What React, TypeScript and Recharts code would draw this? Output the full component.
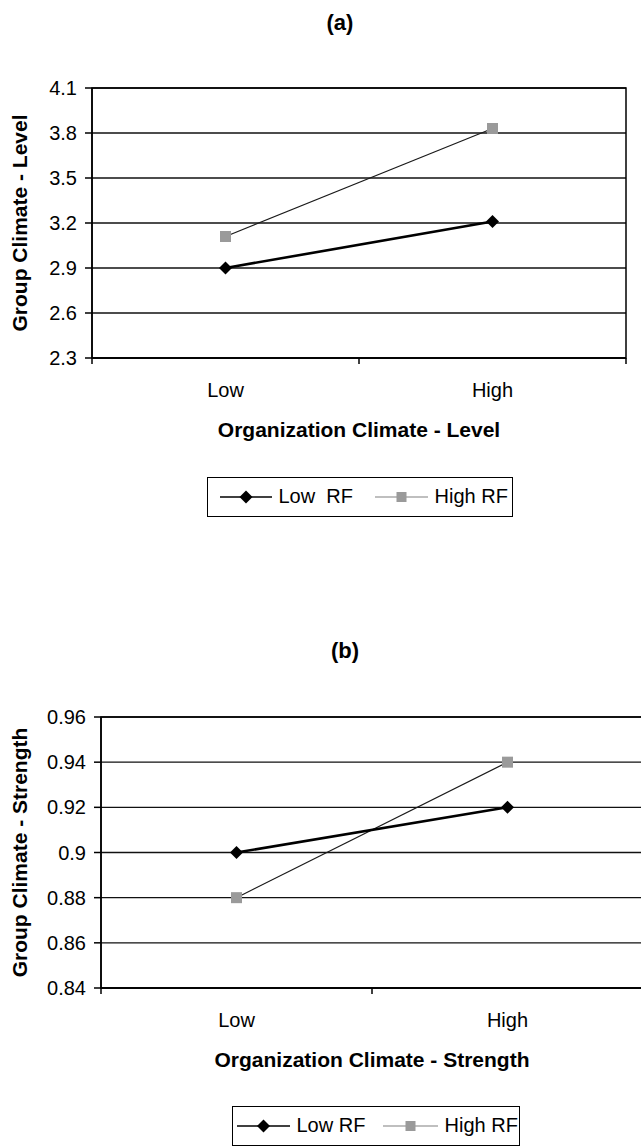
import { LineChart, Line, XAxis, YAxis, CartesianGrid, ReferenceArea } from 'recharts';

const categories = ['Low', 'High'];

const levelLowRF = [2.9, 3.21];
const levelHighRF = [3.11, 3.83];
const levelTicks = [2.3, 2.6, 2.9, 3.2, 3.5, 3.8, 4.1];

const strengthLowRF = [0.9, 0.92];
const strengthHighRF = [0.88, 0.94];
const strengthTicks = [0.84, 0.86, 0.88, 0.9, 0.92, 0.94, 0.96];

const FONT = '"Liberation Sans", Arial, sans-serif';

function Diamond(props: any) {
  const { cx, cy, key } = props;
  if (cx == null || cy == null) return <g key={key} />;
  const r = 6.5;
  return (
    <polygon
      key={key}
      points={`${cx},${cy - r} ${cx + r},${cy} ${cx},${cy + r} ${cx - r},${cy}`}
      fill="#000"
    />
  );
}

function Square(props: any) {
  const { cx, cy, key } = props;
  if (cx == null || cy == null) return <g key={key} />;
  const s = 11;
  return <rect key={key} x={cx - s / 2} y={cy - s / 2} width={s} height={s} fill="#9a9a9a" />;
}

// Excel puts the category tick marks between categories, not under them
function makeCategoryTick(half: number, count: number) {
  return (props: any) => {
    const { x, y, payload, index } = props;
    return (
      <g>
        <line x1={x - half} y1={y} x2={x - half} y2={y + 6} stroke="#000" strokeWidth={1.5} />
        {index === count - 1 && (
          <line x1={x + half} y1={y} x2={x + half} y2={y + 6} stroke="#000" strokeWidth={1.5} />
        )}
        <text x={x} y={y + 39} textAnchor="middle" fontSize={20} fill="#000" fontFamily={FONT}>
          {payload.value}
        </text>
      </g>
    );
  };
}

interface PanelProps {
  top: number;
  width: number;
  height: number;
  plotTop: number;
  plotLeft: number;
  plotRight: number;
  plotBottom: number;
  lowRF: number[];
  highRF: number[];
  ticks: number[];
  yLabel: string;
  xLabel: string;
}

function Panel({ top, width, height, plotTop, plotLeft, plotRight, plotBottom, lowRF, highRF, ticks, yLabel, xLabel }: PanelProps) {
  const data = categories.map((c, i) => ({ cat: c, lowRF: lowRF[i], highRF: highRF[i] }));
  const xAxisHeight = 90;
  const half = (plotRight - plotLeft) / categories.length / 2;
  const y0 = ticks[0];
  const y1 = ticks[ticks.length - 1];
  return (
    <div style={{ position: 'absolute', left: 0, top }}>
      <LineChart
        width={width}
        height={height}
        data={data}
        margin={{ top: plotTop, left: 0, right: width - plotRight, bottom: height - plotBottom - xAxisHeight }}
      >
        <CartesianGrid vertical={false} stroke="#111" strokeWidth={1.4} />
        <ReferenceArea y1={y0} y2={y1} fill="none" stroke="#000" strokeWidth={1.5} />
        <XAxis
          dataKey="cat"
          scale="band"
          height={xAxisHeight}
          axisLine={{ stroke: '#000', strokeWidth: 1.5 }}
          tickLine={false}
          tickSize={0}
          tickMargin={0}
          interval={0}
          tick={makeCategoryTick(half, categories.length)}
          label={{
            value: xLabel,
            position: 'insideBottom',
            offset: 11,
            style: { fontSize: 21, fontWeight: 'bold', fill: '#000', fontFamily: FONT },
          }}
        />
        <YAxis
          width={plotLeft}
          domain={[y0, y1]}
          ticks={ticks}
          interval={0}
          axisLine={{ stroke: '#000', strokeWidth: 1.5 }}
          tickLine={{ stroke: '#000', strokeWidth: 1.5 }}
          tickSize={7}
          tickMargin={8}
          tick={{ fontSize: 20, fill: '#000', fontFamily: FONT }}
          label={{
            value: yLabel,
            angle: -90,
            position: 'insideLeft',
            offset: 20,
            style: { textAnchor: 'middle', fontSize: 21, fontWeight: 'bold', fill: '#000', fontFamily: FONT },
          }}
        />
        <Line
          dataKey="highRF"
          stroke="#1a1a1a"
          strokeWidth={1.2}
          dot={Square}
          activeDot={false}
          isAnimationActive={false}
        />
        <Line
          dataKey="lowRF"
          stroke="#000"
          strokeWidth={2.6}
          dot={Diamond}
          activeDot={false}
          isAnimationActive={false}
        />
      </LineChart>
    </div>
  );
}

function LegendBox({ left, top, width, lowText, items }: { left: number; top: number; width: number; lowText: string; items: number[] }) {
  // items: [line1 start, line1 end, text1 start, line2 start, line2 end, text2 start] relative to box
  const [a1, a2, t1, b1, b2, t2] = items;
  return (
    <div
      style={{
        position: 'absolute',
        left,
        top,
        width,
        height: 40,
        border: '1.5px solid #000',
        boxSizing: 'border-box',
        fontFamily: FONT,
        fontSize: 20,
        color: '#000',
      }}
    >
      <svg width={width} height={40} style={{ position: 'absolute', left: -1.5, top: -1.5 }}>
        <line x1={a1} y1={20} x2={a2} y2={20} stroke="#000" strokeWidth={1.5} />
        <polygon
          points={`${(a1 + a2) / 2},${13.5} ${(a1 + a2) / 2 + 6.5},${20} ${(a1 + a2) / 2},${26.5} ${(a1 + a2) / 2 - 6.5},${20}`}
          fill="#000"
        />
        <line x1={b1} y1={20} x2={b2} y2={20} stroke="#aaa" strokeWidth={1.5} />
        <rect x={(b1 + b2) / 2 - 5} y={15} width={10} height={10} fill="#9a9a9a" />
      </svg>
      <span style={{ position: 'absolute', left: t1 - 1.5, top: 7, lineHeight: '23px', whiteSpace: 'pre' }}>{lowText}</span>
      <span style={{ position: 'absolute', left: t2 - 1.5, top: 7, lineHeight: '23px', whiteSpace: 'pre' }}>High RF</span>
    </div>
  );
}

export default function App() {
  return (
    <div
      style={{
        position: 'absolute',
        left: 0,
        top: 0,
        width: 641,
        height: 1147,
        overflow: 'hidden',
        background: '#fff',
        fontFamily: FONT,
      }}
    >
      <div style={{ position: 'absolute', left: 0, width: 680, top: 10, textAlign: 'center', fontSize: 22, fontWeight: 'bold', lineHeight: '25px' }}>
        (a)
      </div>
      <Panel
        top={0}
        width={641}
        height={470}
        plotTop={88}
        plotLeft={92}
        plotRight={626}
        plotBottom={358}
        lowRF={levelLowRF}
        highRF={levelHighRF}
        ticks={levelTicks}
        yLabel="Group Climate - Level"
        xLabel="Organization Climate - Level"
      />
      <LegendBox left={207} top={477} width={306} lowText="Low  RF" items={[13, 65, 72, 168, 221, 228]} />

      <div style={{ position: 'absolute', left: 0, width: 690, top: 638, textAlign: 'center', fontSize: 22, fontWeight: 'bold', lineHeight: '25px' }}>
        (b)
      </div>
      <Panel
        top={600}
        width={660}
        height={500}
        plotTop={117}
        plotLeft={101}
        plotRight={643}
        plotBottom={388}
        lowRF={strengthLowRF}
        highRF={strengthHighRF}
        ticks={strengthTicks}
        yLabel="Group Climate - Strength"
        xLabel="Organization Climate - Strength"
      />
      <LegendBox left={232} top={1106} width={288} lowText="Low RF" items={[5, 58, 65, 151, 206, 213]} />
    </div>
  );
}
